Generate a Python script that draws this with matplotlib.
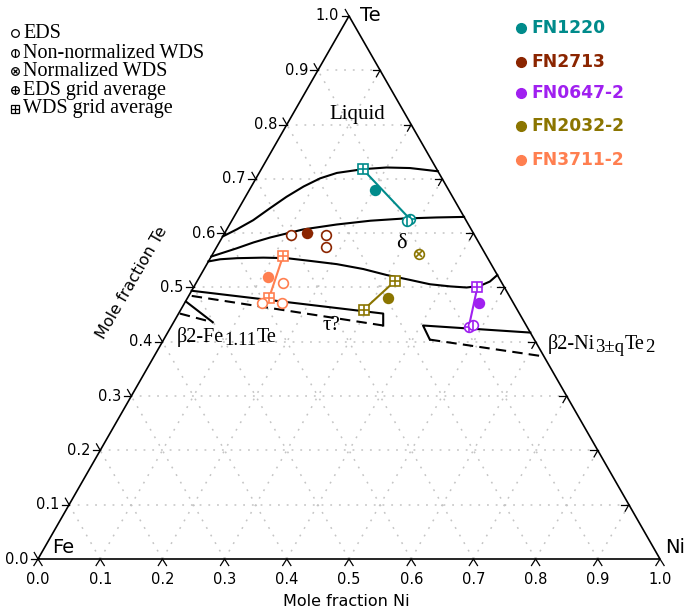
import numpy as np
import matplotlib.pyplot as plt

# phase boundaries, (Ni, Te) mole fractions
liq_ni = [0.0, 0.016, 0.034, 0.050, 0.066, 0.084, 0.103, 0.125, 0.164, 0.200, 0.238, 0.286]
liq_te = [0.594, 0.607, 0.624, 0.646, 0.667, 0.686, 0.701, 0.711, 0.718, 0.721, 0.720, 0.714]
delta_top_ni = [0.0, 0.033, 0.055, 0.077, 0.123, 0.172, 0.223, 0.274, 0.326, 0.370]
delta_top_te = [0.557, 0.572, 0.583, 0.592, 0.607, 0.616, 0.623, 0.627, 0.629, 0.630]
delta_bot_ni = [0.0, 0.017, 0.043, 0.085, 0.123, 0.163, 0.209, 0.256, 0.299, 0.341,
                0.377, 0.412, 0.439, 0.459, 0.471, 0.477]
delta_bot_te = [0.548, 0.552, 0.554, 0.555, 0.554, 0.549, 0.543, 0.534, 0.523, 0.514,
                0.506, 0.502, 0.500, 0.503, 0.511, 0.523]
tau_solid_ni = [0.0, 0.329, 0.340]
tau_solid_te = [0.494, 0.452, 0.430]
tau_dash_ni = [0.340, 0.002]
tau_dash_te = [0.430, 0.485]
fe_solid_ni = [0.001, 0.063]
fe_solid_te = [0.474, 0.436]
fe_dash_ni = [0.002, 0.063]
fe_dash_te = [0.452, 0.436]
ni_solid_ni = [0.583, 0.404, 0.428]
ni_solid_te = [0.417, 0.430, 0.404]
ni_dash_ni = [0.428, 0.627]
ni_dash_te = [0.404, 0.373]

samples = ['FN1220', 'FN2713', 'FN0647-2', 'FN2032-2', 'FN3711-2']
colors = ['#008b8b', '#8b2500', '#a020f0', '#8b7500', '#ff7f50']

# measured points per sample: (kind, Ni, Te)
points = {
    'FN1220': [('wds_grid', 0.163, 0.718), ('filled', 0.202, 0.680),
               ('eds_grid', 0.285, 0.626), ('wds_nn', 0.282, 0.622)],
    'FN2713': [('eds', 0.109, 0.597), ('filled', 0.132, 0.600),
               ('eds', 0.165, 0.597), ('eds', 0.176, 0.575)],
    'FN0647-2': [('wds_grid', 0.456, 0.501), ('filled', 0.473, 0.471),
                 ('eds_grid', 0.479, 0.427), ('wds_nn', 0.484, 0.431)],
    'FN2032-2': [('wds_grid', 0.318, 0.512), ('filled', 0.323, 0.481),
                 ('wds_grid', 0.294, 0.459), ('wds_norm', 0.332, 0.562)],
    'FN3711-2': [('wds_grid', 0.115, 0.558), ('filled', 0.111, 0.519),
                 ('eds', 0.140, 0.508), ('wds_grid', 0.131, 0.481),
                 ('eds', 0.124, 0.471), ('eds', 0.156, 0.471)],
}
# tie lines between points (indices into the lists above)
links = {'FN1220': (0, 2), 'FN0647-2': (0, 2), 'FN2032-2': (0, 2), 'FN3711-2': (0, 3)}

legend_kinds = ['eds', 'wds_nn', 'wds_norm', 'eds_grid', 'wds_grid']
legend_labels = ['EDS', 'Non-normalized WDS', 'Normalized WDS', 'EDS grid average', 'WDS grid average']
ticks = [round(0.1 * i, 1) for i in range(11)]

serif = 'Liberation Serif'


def xy(ni, te):
    ni = np.asarray(ni, float)
    te = np.asarray(te, float)
    return ni + te / 2, te


def px(xp, yp):
    # pixel position of the reference image -> data coords
    return (xp - 38) / 622, (559 - yp) / 543


def mark(ax, x, y, kind, color, ms=7, transform=None, mew=1.2):
    kw = dict(color=color, ls='none', mew=mew, zorder=5)
    if transform is not None:
        kw['transform'] = transform
        kw['clip_on'] = False
    if kind == 'filled':
        ax.plot(x, y, 'o', ms=ms, mfc=color, **kw)
        return
    if kind == 'wds_grid':
        ax.plot(x, y, 's', ms=ms * 0.95, mfc='white', **kw)
    else:
        ax.plot(x, y, 'o', ms=ms, mfc='white', **kw)
    inner = {'wds_nn': ('|', 1.0), 'wds_norm': ('x', 0.6), 'eds_grid': ('+', 1.0),
             'wds_grid': ('+', 0.95)}
    if kind in inner:
        m, f = inner[kind]
        ax.plot(x, y, m, ms=ms * f, mfc='none', **kw)


def chain(ax, x, y, pieces):
    # text with lowered pieces (subscripts), drawn left to right
    s, fs, dy = pieces[0]
    prev = ax.text(x, y, s, family=serif, fontsize=fs, ha='left', va='baseline')
    for s, fs, dy in pieces[1:]:
        prev = ax.annotate(s, xy=(1, y), xycoords=(prev, 'data'), xytext=(0.2, dy),
                           textcoords='offset points', family=serif, fontsize=fs,
                           ha='left', va='baseline')


fig = plt.figure(figsize=(6.85, 6.13), dpi=100)
ax = fig.add_axes([0, 0, 1, 1])
ax.set_xlim(-38 / 622, 1 + 25 / 622)
ax.set_ylim(-54 / 543, 1 + 16 / 543)
ax.axis('off')

# grid
for v in ticks[1:-1]:
    for a, b in [((0, v), (1 - v, v)), ((v, 0), (v, 1 - v)), ((1 - v, 0), (0, 1 - v))]:
        x, y = xy([a[0], b[0]], [a[1], b[1]])
        ax.plot(x, y, color='#c4c4c4', lw=1.1, dashes=(1.2, 4.5), zorder=1)

# triangle
x, y = xy([0, 1, 0, 0], [0, 0, 1, 0])
ax.plot(x, y, color='black', lw=1.2, zorder=3)

# ticks and tick labels
L = 0.012
for t in ticks:
    bx, by = xy(t, 0)
    ax.plot([bx - L * 0.55, bx, bx + L * 0.55], [by - L * 1.0, by, by - L * 1.0], color='black', lw=0.9)
    ax.annotate(f'{t:.1f}', (bx, by), xytext=(0, -9), textcoords='offset points',
                ha='center', va='top', fontsize=10.5)
    lx, ly = xy(0, t)
    ax.plot([lx - L, lx], [ly, ly], color='black', lw=0.9)
    ax.plot([lx - L * 0.5, lx], [ly + L * 1.0, ly], color='black', lw=0.9)
    ax.annotate(f'{t:.1f}', (lx, ly), xytext=(-7, 0), textcoords='offset points',
                ha='right', va='center', fontsize=10.5)
    if 0 < t < 1:
        rx, ry = xy(1 - t, t)
        ax.plot([rx, rx - L], [ry, ry], color='black', lw=0.9)
        ax.plot([rx, rx - L * 0.5], [ry, ry - L * 1.0], color='black', lw=0.9)

ax.annotate('Fe', xy(0, 0), xytext=(10, 4.5), textcoords='offset points', fontsize=14,
            ha='left', va='baseline')
ax.annotate('Ni', xy(1, 0), xytext=(3.5, 4.5), textcoords='offset points', fontsize=14,
            ha='left', va='baseline')
ax.annotate('Te', xy(0, 1), xytext=(8, 0), textcoords='offset points', fontsize=14,
            ha='left', va='center')
ax.text(*px(346, 601), 'Mole fraction Ni', fontsize=11.5, ha='center', va='center')
ax.text(*px(132, 283), 'Mole fraction Te', fontsize=11.5, ha='center', va='center', rotation=60)

# phase boundaries
solid = dict(color='black', lw=1.5, zorder=3)
dashed = dict(color='black', lw=1.5, dashes=(5, 3), zorder=3)
for n, t in [(liq_ni, liq_te), (delta_top_ni, delta_top_te), (delta_bot_ni, delta_bot_te),
             (tau_solid_ni, tau_solid_te), (fe_solid_ni, fe_solid_te), (ni_solid_ni, ni_solid_te)]:
    ax.plot(*xy(n, t), **solid)
for n, t in [(tau_dash_ni, tau_dash_te), (fe_dash_ni, fe_dash_te), (ni_dash_ni, ni_dash_te)]:
    ax.plot(*xy(n, t), **dashed)

ax.text(*px(357, 115), 'Liquid', family=serif, fontsize=15, ha='center', va='center')
ax.text(*px(401, 244), 'δ', family=serif, fontsize=16, ha='center', va='center')
ax.text(*px(331, 326), 'τ?', family=serif, fontsize=15, ha='center', va='center')
chain(ax, *px(177, 342), [('β2-Fe', 14.5, 0), ('1.11', 13.5, -2.5), ('Te', 14.5, 0)])
chain(ax, *px(548, 349), [('β2-Ni', 14.5, 0), ('3±q', 13.5, -2), ('Te', 14.5, 0), ('2', 13.5, -2)])

# sample data
for s, c in zip(samples, colors):
    pts = points[s]
    if s in links:
        i, j = links[s]
        ax.plot(*xy([pts[i][1], pts[j][1]], [pts[i][2], pts[j][2]]), color=c, lw=1.5, zorder=4)
    for kind, n, t in pts:
        mark(ax, *xy(n, t), kind, c)

# marker legend (top left)
for k, (kind, lab) in enumerate(zip(legend_kinds, legend_labels)):
    yk = 1 - [33, 53, 71, 90, 109][k] / 613
    mark(ax, 15 / 685, yk, kind, 'black', ms=5.5, transform=fig.transFigure, mew=0.9)
    fig.text(23 / 685, yk, lab, family=serif, fontsize=14.5, ha='left', va='center')

# sample legend (top right)
for k, (s, c) in enumerate(zip(samples, colors)):
    yk = 1 - [28, 62, 93, 126, 160][k] / 613
    ax.plot(521 / 685, yk, 'o', ms=7, color=c, transform=fig.transFigure, clip_on=False)
    fig.text(531 / 685, yk, s, color=c, fontsize=12.3, fontweight='bold', ha='left', va='center')

fig.savefig('out.png', dpi=100)
